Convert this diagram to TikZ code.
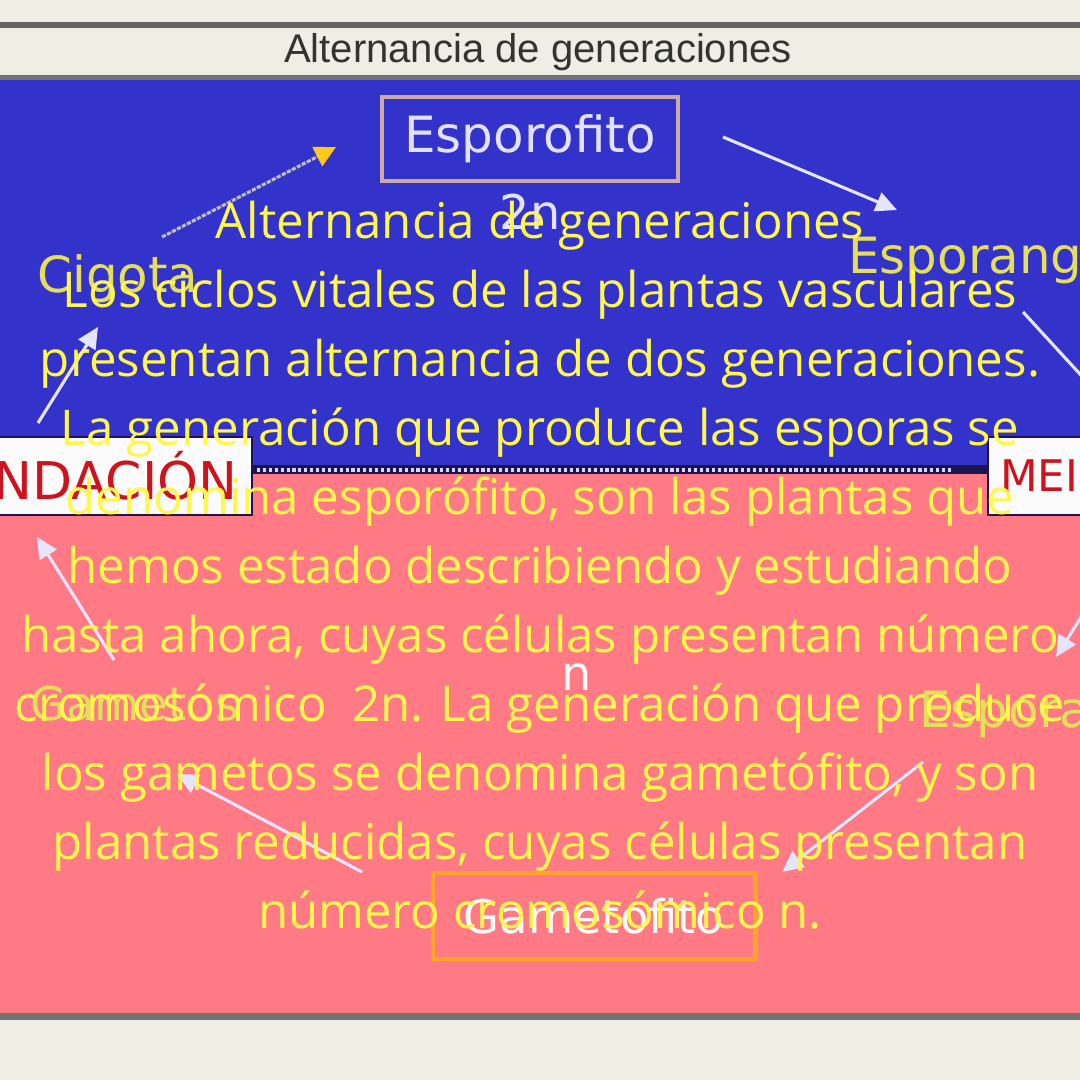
\documentclass[tikz,border=0pt]{standalone}
\usepackage{fontspec}
\setmainfont{Open Sans}
\newfontfamily\labelfont{DejaVu Sans}
\newfontfamily\titlefont{Liberation Sans}
\definecolor{bgbeige}{RGB}{238,238,228}
\definecolor{cycblue}{RGB}{51,51,204}
\definecolor{cycnavy}{RGB}{30,20,80}
\definecolor{cycpink}{RGB}{255,122,133}
\definecolor{txtyellow}{RGB}{255,247,77}
\definecolor{lblyellow}{RGB}{228,222,90}
\definecolor{boxorange}{RGB}{255,165,40}
\definecolor{boxtan}{RGB}{205,170,165}
\definecolor{cycred}{RGB}{205,20,30}
\definecolor{lavender}{RGB}{226,226,255}
\definecolor{headgold}{RGB}{255,200,30}
\usetikzlibrary{arrows.meta}

\begin{document}
\begin{tikzpicture}[x=0.025cm,y=-0.025cm,>=Triangle,
  flecha/.style={draw=white!90!blue,line width=2.2pt,
                 -{Triangle[length=15pt,width=14pt]}},
  etiqueta/.style={text=lblyellow,inner sep=0pt,
                   font=\labelfont\fontsize{35.5}{35.5}\selectfont},
  sidebox/.style={draw=cycnavy,fill=white!97!gray,line width=1.6pt,
                  minimum height=1.95cm,text=cycred,
                  font=\labelfont\fontsize{37}{37}\selectfont},
  cuerpo/.style={text=txtyellow,inner sep=0pt,
                 font=\fontsize{35}{49}\selectfont}]
  \useasboundingbox (0,0) rectangle (1080,1080);
  \clip (0,0) rectangle (1080,1080);
  %% Background bands
  \fill[bgbeige] (0,0) rectangle (1080,1080);
  \fill[black!60] (0,22) rectangle (1080,28);
  \fill[black!55] (0,75) rectangle (1080,81);
  \fill[cycblue] (0,80) rectangle (1080,470);
  \fill[cycpink] (0,472) rectangle (1080,1013);
  \fill[black!55] (0,1013) rectangle (1080,1020);
  \fill[cycnavy] (253,465) rectangle (990,474);
  \draw[white!85!blue,line width=2.2pt,dash pattern=on 2.2pt off 2pt]
    (257,470) -- (953,470);
  %% Title
  \node[anchor=base,text=black!80,
        font=\titlefont\fontsize{28.5}{28.5}\selectfont] (titulo) at (538,62)
        {Alternancia de generaciones};
  %% Cycle boxes
  \node[draw=boxtan,line width=2.2pt,minimum width=7.4cm,minimum height=2.1cm,
        text=lavender,font=\labelfont\fontsize{35.5}{35.5}\selectfont]
        (esporofito) at (530,139) {Esporofito};
  \node[anchor=base,text=lavender,font=\labelfont\fontsize{34}{34}\selectfont]
        (diploide) at (530,229) {2n};
  \node[draw=boxorange,line width=3.5pt,minimum width=8.05cm,minimum height=2.15cm,
        text=white!92!pink,font=\labelfont\fontsize{33}{33}\selectfont]
        (gametofito) at (594,916) {Gametofito};
  \node[anchor=base,text=white!92!pink,font=\labelfont\fontsize{34}{34}\selectfont]
        (haploide) at (577,690) {n};
  \node[sidebox,anchor=east,text width=6.2cm,align=right,inner xsep=0.36cm]
        (fecundacion) at (253,476) {NDACIÓN};
  \node[sidebox,anchor=west,text width=4.5cm,align=left,inner xsep=0.3cm,
        font=\labelfont\fontsize{31}{31}\selectfont]
        (meiosis) at (987,476) {MEI};
  %% Stage labels
  \node[etiqueta,anchor=base west] (cigota) at (37,292) {Cigota};
  \node[etiqueta,anchor=base west] (esporangio) at (848,273) {Esporang};
  \node[etiqueta,anchor=base west,font=\labelfont\fontsize{33}{33}\selectfont]
        (gametos) at (30,720) {Gametos};
  \node[etiqueta,anchor=base west] (espora) at (919,727) {Espora};
  %% Arrow ends
  \coordinate (a1) at (162,237);  \coordinate (b1) at (336,147);
  \coordinate (a2) at (723,137);  \coordinate (b2) at (897,210);
  \coordinate (a3) at (1023,312); \coordinate (b3) at (1090,385);
  \coordinate (a4) at (1095,595); \coordinate (b4) at (1056,657);
  \coordinate (a5) at (923,762);  \coordinate (b5) at (782,872);
  \coordinate (a6) at (362,872);  \coordinate (b6) at (177,774);
  \coordinate (a7) at (114,660);  \coordinate (b7) at (37,537);
  \coordinate (a8) at (38,423);   \coordinate (b8) at (98,327);
  %% Arrows
  \draw[flecha,draw=black!25!white,dash pattern=on 3pt off 1pt,
        -{Triangle[length=15pt,width=15pt,color=headgold]}] (a1) -- (b1);
  \draw[flecha] (a2) -- (b2);
  \draw[flecha,-] (a3) -- (b3);
  \draw[flecha] (a4) -- (b4);
  \draw[flecha] (a5) -- (b5);
  \draw[flecha] (a6) -- (b6);
  \draw[flecha] (a7) -- (b7);
  \draw[flecha] (a8) -- (b8);
  %% Overlaid text
  \foreach \linea [count=\i] in {{Alternancia de generaciones},
      {Los ciclos vitales de las plantas vasculares},
      {presentan alternancia de dos generaciones.},
      {La generación que produce las esporas se},
      {denomina esporófito, son las plantas que},
      {hemos estado describiendo y estudiando},
      {hasta ahora, cuyas células presentan número},
      {cromosómico~ 2n. La generación que produce},
      {los gametos se denomina gametófito, y son},
      {plantas reducidas, cuyas células presentan},
      {número cromosómico n.}}
    \node[cuerpo,anchor=base] (linea\i) at (540,{238+69*(\i-1)}) {\linea};
\end{tikzpicture}
\end{document}
